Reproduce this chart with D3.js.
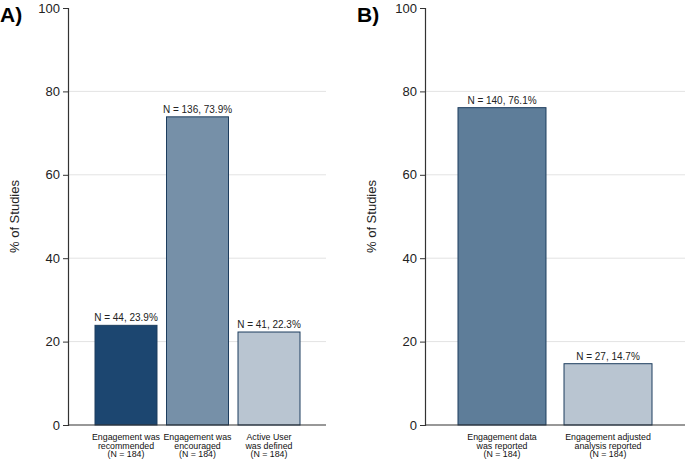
<!DOCTYPE html>
<html>
<head>
    <script src="https://d3js.org/d3.v7.min.js"></script>
    <style>
        body { margin: 0; background: #fff; }
        svg { font-family: "Liberation Sans", Arial, sans-serif; }
        .grid line { stroke: #e3e3e3; stroke-width: 1px; }
        .tick text { font-size: 13px; fill: #222; }
        .barlabel { font-size: 10px; fill: #222; }
        .xlab { font-size: 8.8px; fill: #111; }
    </style>
</head>
<body>
    <div id="chart"></div>
    <script>
        // Panel A data
        const catsA = ["rec", "enc", "act"];
        const labelsA = [
            ["Engagement was", "recommended", "(N = 184)"],
            ["Engagement was", "encouraged", "(N = 184)"],
            ["Active User", "was defined", "(N = 184)"]
        ];
        const pctA = [23.9, 73.9, 22.3];
        const nA = [44, 136, 41];
        const colorsA = ["#1c4670", "#7690a8", "#b9c5d1"];

        // Panel B data
        const catsB = ["rep", "adj"];
        const labelsB = [
            ["Engagement data", "was reported", "(N = 184)"],
            ["Engagement adjusted", "analysis reported", "(N = 184)"]
        ];
        const pctB = [76.1, 14.7];
        const nB = [140, 27];
        const colorsB = ["#5e7d99", "#b9c5d1"];

        const yTicks = [0, 20, 40, 60, 80, 100];

        const width = 685, height = 461;
        const svg = d3.select('#chart').append('svg')
            .attr('width', width)
            .attr('height', height);

        const y = d3.scaleLinear().domain([0, 100]).range([425, 8]);

        function panel(opts) {
            const g = svg.append('g');
            const x = d3.scaleBand()
                .domain(opts.cats)
                .range(opts.barRange)
                .paddingInner(opts.pad)
                .paddingOuter(0);

            // gridlines
            g.append('g').attr('class', 'grid')
                .selectAll('line')
                .data(yTicks.filter(t => t > 0 && t < 100))
                .enter().append('line')
                .attr('x1', opts.axisX + 1)
                .attr('x2', opts.right)
                .attr('y1', d => y(d))
                .attr('y2', d => y(d));

            // bars
            g.selectAll('.bar')
                .data(opts.pct)
                .enter().append('rect')
                .attr('class', 'bar')
                .attr('x', (d, i) => x(opts.cats[i]))
                .attr('y', d => y(d))
                .attr('width', x.bandwidth())
                .attr('height', d => y(0) - y(d))
                .attr('fill', (d, i) => opts.colors[i])
                .attr('stroke', '#1d3d5e')
                .attr('stroke-width', 1);

            // bar labels
            g.selectAll('.barlabel')
                .data(opts.pct)
                .enter().append('text')
                .attr('class', 'barlabel')
                .attr('x', (d, i) => x(opts.cats[i]) + x.bandwidth() / 2)
                .attr('y', d => y(d) - 4)
                .attr('text-anchor', 'middle')
                .text((d, i) => `N = ${opts.n[i]}, ${d.toFixed(1)}%`);

            // category labels, one text per line
            opts.labels.forEach((lines, i) => {
                const cx = x(opts.cats[i]) + x.bandwidth() / 2;
                g.selectAll(null)
                    .data(lines)
                    .enter().append('text')
                    .attr('class', 'xlab')
                    .attr('text-anchor', 'middle')
                    .attr('x', cx)
                    .attr('y', (d, j) => 440 + j * 8.7)
                    .text(d => d);
            });

            // baseline
            g.append('line')
                .attr('x1', opts.axisX)
                .attr('x2', opts.right)
                .attr('y1', y(0))
                .attr('y2', y(0))
                .attr('stroke', '#333')
                .attr('stroke-width', 1.2);

            // y axis
            const ax = g.append('g')
                .attr('transform', `translate(${opts.axisX},0)`)
                .call(d3.axisLeft(y).tickValues(yTicks).tickSize(5).tickPadding(3));
            ax.select('.domain').attr('stroke', '#333').attr('stroke-width', 1.2);
            ax.selectAll('.tick line').attr('stroke', '#333');
            ax.selectAll('.tick text').attr('font-family', null).attr('font-size', null);

            // y title
            g.append('text')
                .attr('transform', `translate(${opts.titleX},${(y(0) + y(100)) / 2}) rotate(-90)`)
                .attr('text-anchor', 'middle')
                .attr('font-size', '13px')
                .attr('fill', '#222')
                .text('% of Studies');

            // panel letter
            g.append('text')
                .attr('x', opts.letterX)
                .attr('y', 22)
                .attr('font-size', '21px')
                .attr('font-weight', 'bold')
                .attr('fill', '#000')
                .text(opts.letter);
        }

        panel({
            cats: catsA, labels: labelsA, pct: pctA, n: nA, colors: colorsA,
            barRange: [95, 300], pad: 0.133, axisX: 68, right: 326,
            titleX: 19, letterX: 0, letter: 'A)'
        });

        panel({
            cats: catsB, labels: labelsB, pct: pctB, n: nB, colors: colorsB,
            barRange: [458, 652], pad: 0.17, axisX: 425, right: 685,
            titleX: 376, letterX: 357, letter: 'B)'
        });
    </script>
</body>
</html>
